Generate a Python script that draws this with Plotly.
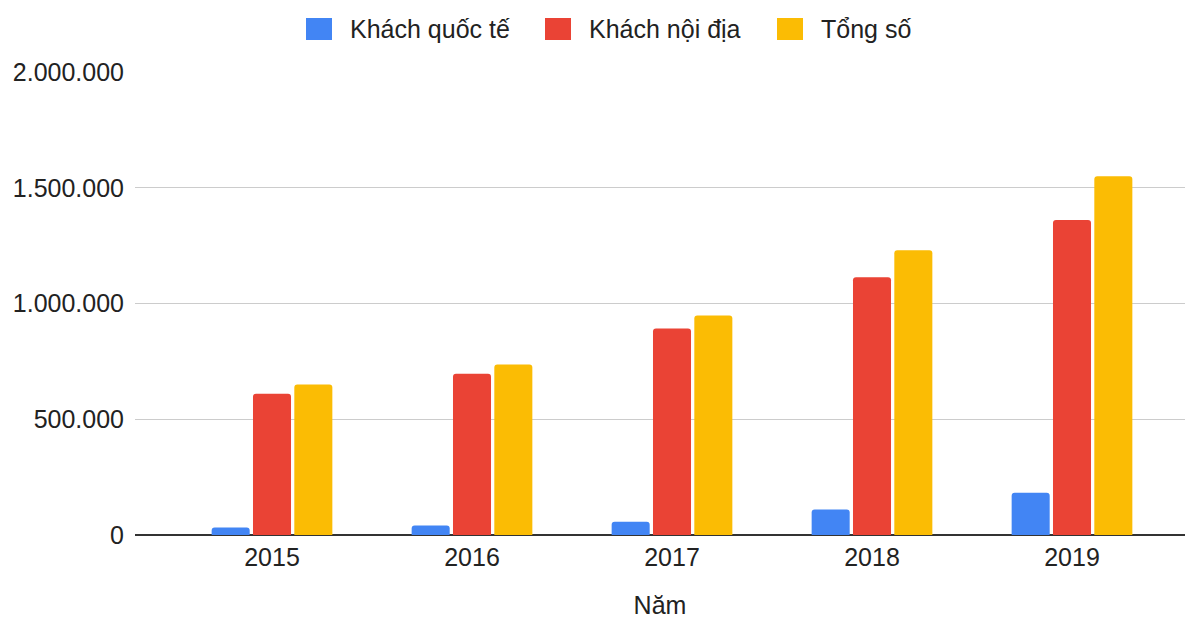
import plotly.graph_objects as go

years = ["2015", "2016", "2017", "2018", "2019"]
khach_quoc_te = [32000, 41000, 57000, 110000, 182000]
khach_noi_dia = [610000, 697000, 892000, 1113000, 1361000]
tong_so = [650000, 736000, 948000, 1230000, 1550000]

series_names = ["Khách quốc tế", "Khách nội địa", "Tổng số"]
series_values = [khach_quoc_te, khach_noi_dia, tong_so]
series_colors = ["#4285F4", "#EA4335", "#FBBC04"]

# page body adds an 8px offset; figure coordinates compensate for it
OFF = 8
W, H = 1195, 619
ML, MR, MT, MB = 135 - OFF, 10 + OFF, 72 - OFF, 84 + OFF
FONT = "Liberation Sans, Arial, sans-serif"
FS = 25

fig = go.Figure()
for name, vals, color in zip(series_names, series_values, series_colors):
    fig.add_trace(go.Bar(x=years, y=vals, name=name, marker_color=color,
                         marker_line_width=0, showlegend=False))

pw, ph = W - ML - MR, H - MT - MB
def px_x(p):
    return (p - OFF - ML) / pw
def px_y(p):
    return (H - MB - (p - OFF)) / ph

legend_sq_left = [306, 545, 777]
shapes, annotations = [], []
for name, color, left in zip(series_names, series_colors, legend_sq_left):
    shapes.append(dict(type="rect", xref="paper", yref="paper",
                       x0=px_x(left), x1=px_x(left + 26), y0=px_y(40), y1=px_y(18),
                       fillcolor=color, line_width=0, layer="above"))
    annotations.append(dict(text=name, xref="paper", yref="paper",
                            x=px_x(left + 42), y=px_y(29), xanchor="left", yanchor="middle",
                            showarrow=False, font=dict(family=FONT, size=FS, color="#222222")))

fig.update_layout(
    width=W, height=H,
    margin=dict(l=ML, r=MR, t=MT, b=MB, autoexpand=False),
    paper_bgcolor="white", plot_bgcolor="white",
    font=dict(family=FONT, size=FS, color="#222222"),
    separators=",.",
    barmode="group", bargap=0.38, bargroupgap=0.08,
    barcornerradius=3,
    showlegend=False,
    shapes=shapes, annotations=annotations,
    xaxis=dict(type="category", range=[-0.685, 4.565], showgrid=False,
               showline=False, ticks="", tickfont=dict(size=FS), ticklabelstandoff=5,
               title=dict(text="Năm", font=dict(size=FS), standoff=26)),
    yaxis=dict(range=[0, 2000000], tickvals=[0, 500000, 1000000, 1500000, 2000000],
               tickformat=",d", showgrid=True, gridcolor="#CCCCCC", gridwidth=1,
               zeroline=True, zerolinecolor="#333333", zerolinewidth=2,
               ticks="", ticklabelstandoff=10, tickfont=dict(size=FS)),
)

fig.write_html("out.html")
